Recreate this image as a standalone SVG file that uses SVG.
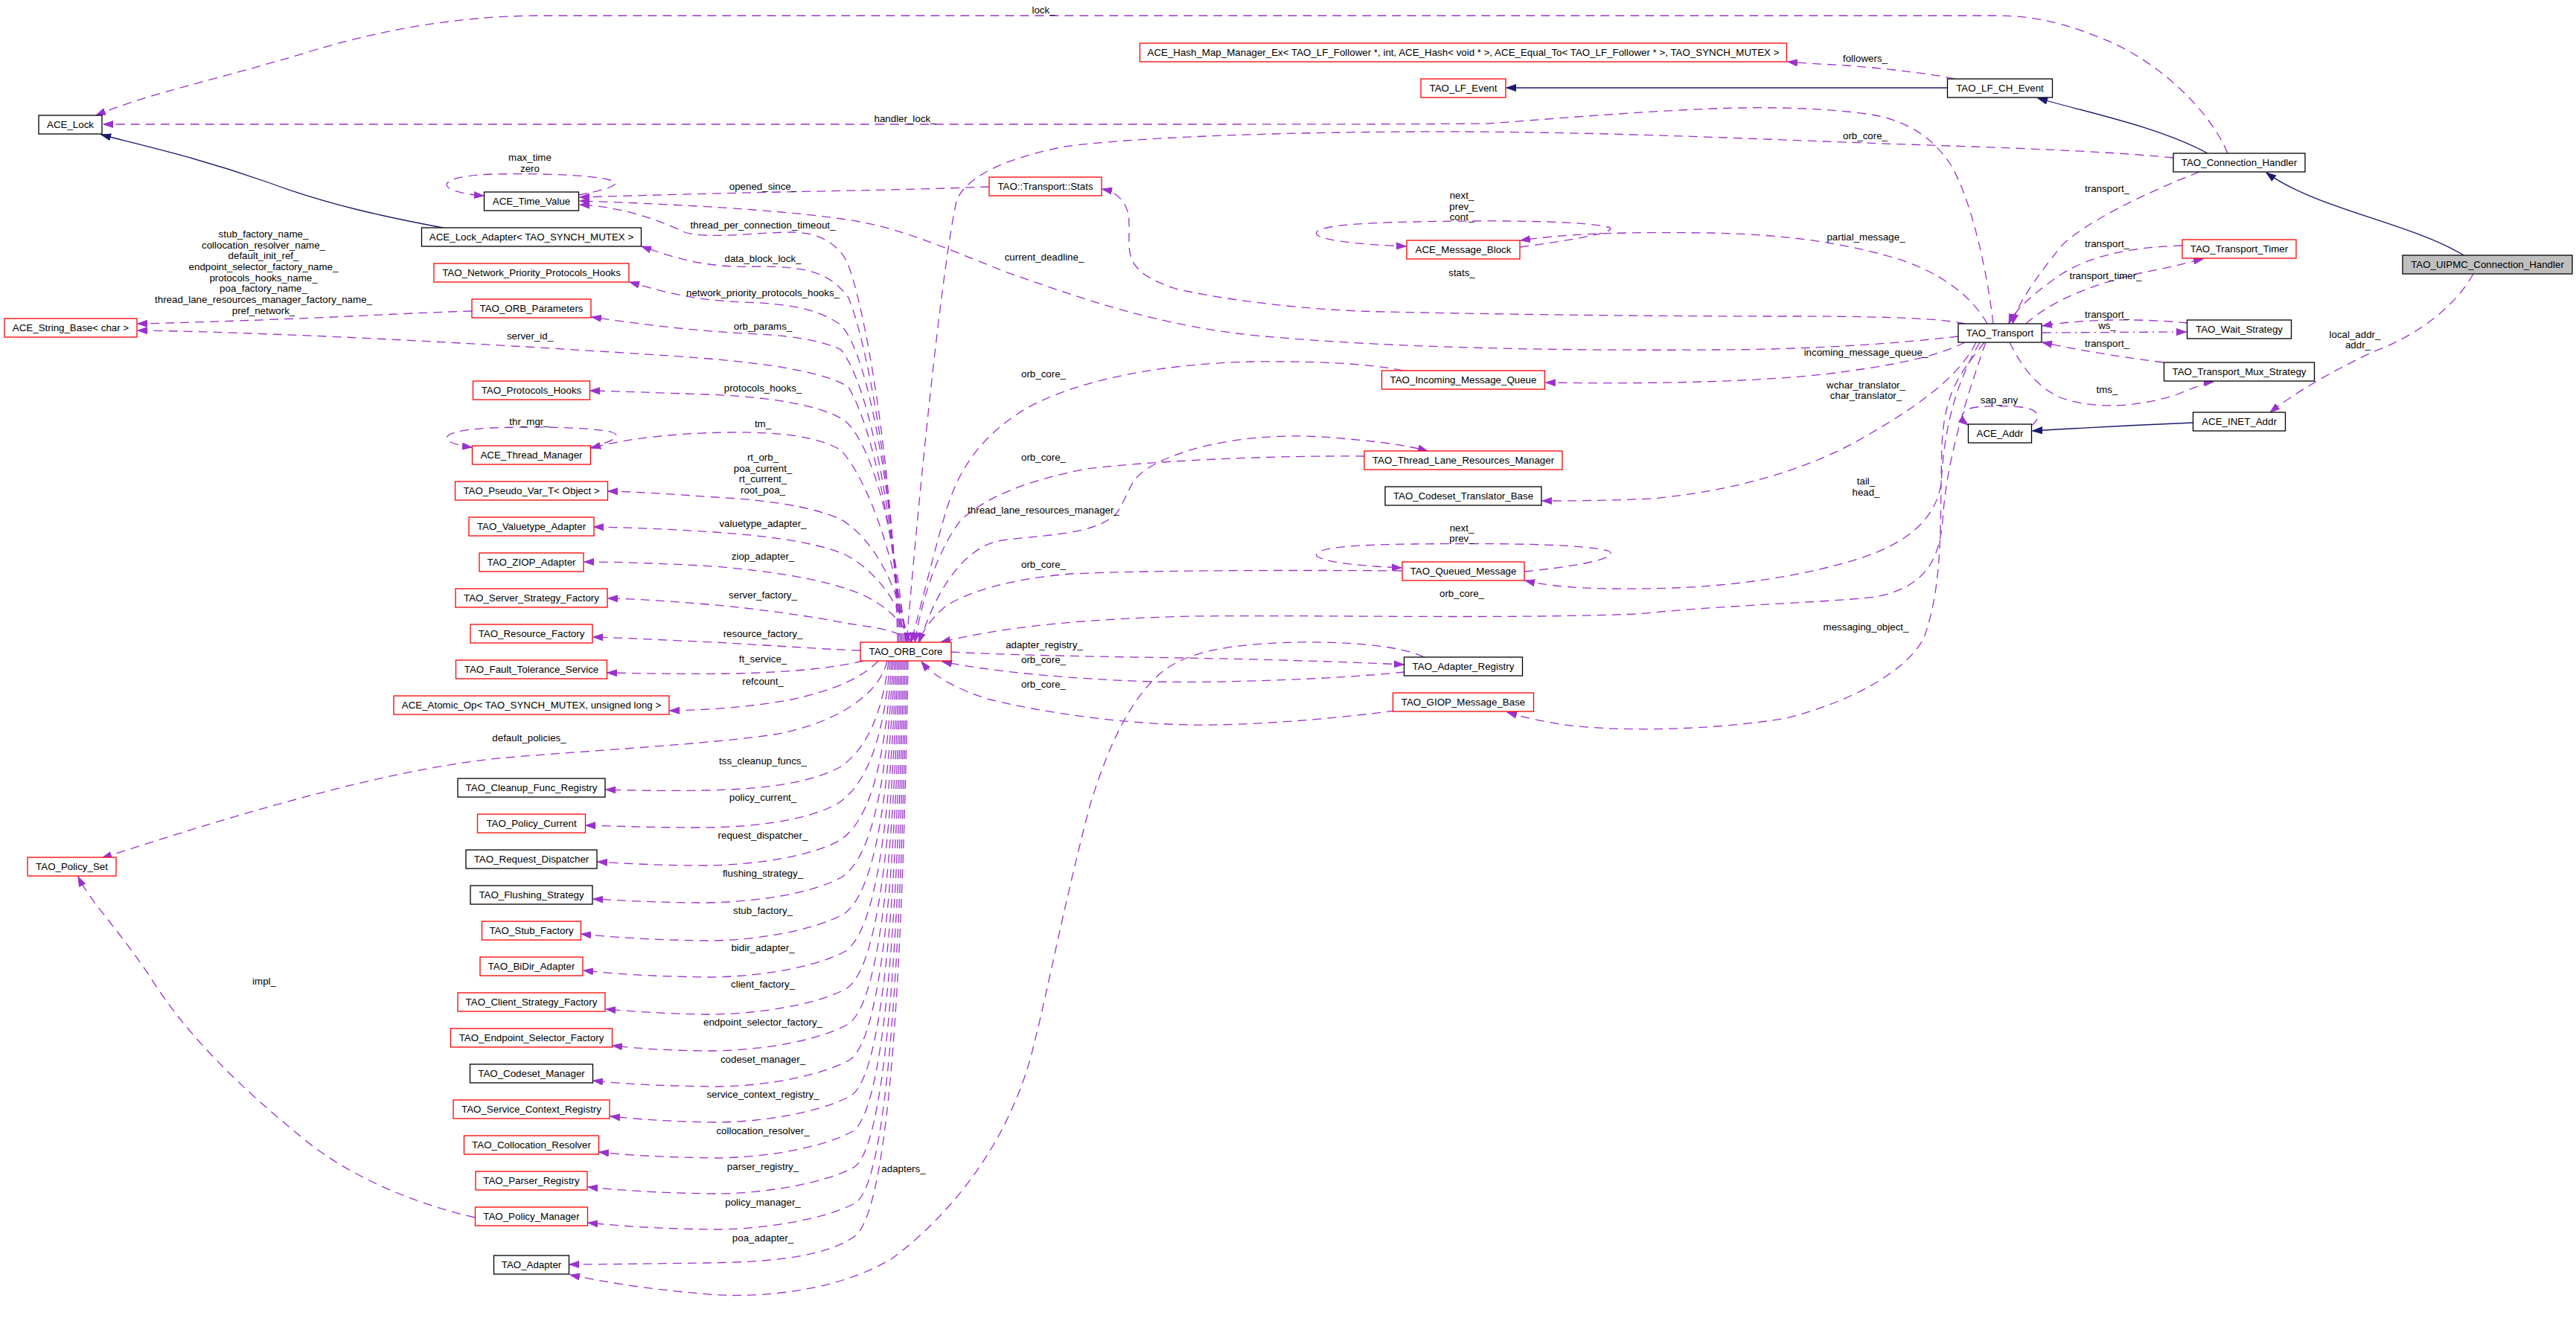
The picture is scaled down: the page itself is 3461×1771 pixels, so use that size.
<svg xmlns="http://www.w3.org/2000/svg" width="3461" height="1771" viewBox="0 0 3461 1771">
<style>
text{font-family:"Liberation Sans",Arial,Helvetica,sans-serif;font-size:13.33px;fill:#000;text-anchor:middle}
.b{fill:#fff;stroke:#000;stroke-width:1.3}
.r{fill:#fff;stroke:#ff0000;stroke-width:1.3}
.g{fill:#bfbfbf;stroke:#000;stroke-width:1.3}
.e{fill:none;stroke:#9a32cd;stroke-width:1.3;stroke-dasharray:12 8;marker-end:url(#ap)}
.d{fill:none;stroke:#9a32cd;stroke-width:1.3;stroke-dasharray:12 6 2 6;marker-end:url(#ap)}
.i{fill:none;stroke:#191970;stroke-width:1.3;marker-end:url(#ab)}
</style>
<defs>
<marker id="ap" markerUnits="userSpaceOnUse" markerWidth="14" markerHeight="10" refX="13" refY="5" orient="auto" viewBox="0 0 14 10"><path d="M0,0.5 L13,5 L0,9.5 z" fill="#9a32cd" stroke="#9a32cd" stroke-width="1"/></marker>
<marker id="ab" markerUnits="userSpaceOnUse" markerWidth="14" markerHeight="10" refX="13" refY="5" orient="auto" viewBox="0 0 14 10"><path d="M0,0.5 L13,5 L0,9.5 z" fill="#191970" stroke="#191970" stroke-width="1"/></marker>
</defs>
<rect width="3461" height="1771" fill="#fff"/>
<g id="edges">
<path class="i" d="M595,306 C520,292 440,275 360,245 C260,210 190,195 136,181"/>
<path class="i" d="M2616,118 L2024,118"/>
<path class="i" d="M2966,206 C2900,170 2800,150 2738,132"/>
<path class="i" d="M3310,343 C3240,300 3110,280 3045,232"/>
<path class="i" d="M2946,568 C2850,572 2780,576 2731,579"/>
<path class="e" d="M2993,206 C2970,150 2900,80 2820,50 C2770,30 2730,21 2680,21 L720,21 C620,22 520,38 420,68 C300,105 200,125 129,155"/>
<path class="e" d="M2678,435 C2668,350 2645,260 2620,220 C2600,190 2570,165 2520,155 C2460,145 2380,143 2300,146 C2200,150 2080,160 2000,166 C1900,167 1700,167 1500,167 L139,167"/>
<path class="e" d="M2626,106 C2590,98 2530,92 2480,88 C2450,86 2420,85 2402,83"/>
<path class="e" d="M2920,212 C2800,200 2600,196 2450,190 C2300,184 2100,176 1900,177 C1700,178 1520,185 1430,197 C1340,215 1300,240 1286,267 C1270,330 1240,600 1218,863"/>
<path class="e" d="M2955,231 C2880,260 2800,300 2770,330 C2730,380 2710,410 2704,435"/>
<path class="e" d="M2932,330 C2860,332 2800,345 2760,375 C2725,400 2705,420 2699,435"/>
<path class="e" d="M2722,435 C2760,400 2830,375 2900,362 C2930,356 2950,350 2960,348"/>
<path class="e" d="M2939,434 C2880,428 2800,428 2744,438"/>
<path class="d" d="M2744,447 L2937,446"/>
<path class="e" d="M2907,487 C2850,480 2790,470 2744,460"/>
<path class="e" d="M2700,460 C2715,490 2735,520 2770,535 C2820,552 2880,545 2925,530 C2950,520 2965,514 2974,513"/>
<path class="e" d="M3323,368 C3300,410 3250,450 3190,472 C3130,500 3080,530 3050,554"/>
<path class="e" d="M2729,572 C2742,563 2742,550 2715,547 C2690,545 2665,545 2650,548 C2632,553 2634,563 2644,571"/>
<path class="e" d="M2670,435 C2650,400 2610,365 2540,345 C2460,322 2380,315 2300,313 C2200,312 2120,312 2043,323"/>
<path class="e" d="M2042,332 C2120,322 2180,310 2160,305 C2120,296 2000,296 1900,298 C1800,300 1760,306 1770,316 C1785,325 1840,329 1889,331"/>
<path class="e" d="M2640,435 C2600,426 2500,425 2400,425 C2200,425 2000,422 1860,419 C1750,417 1640,402 1580,388 C1530,372 1518,355 1517,330 C1516,300 1522,280 1500,262 C1492,257 1486,255 1481,254"/>
<path class="e" d="M1329,251 C1250,254 1150,256 1050,258 C950,260 850,263 779,265"/>
<path class="e" d="M2631,452 C2520,465 2400,470 2300,470 C2150,471 1900,470 1700,452 C1560,440 1450,400 1350,365 C1250,325 1200,303 1130,294 C1050,282 900,274 779,270"/>
<path class="e" d="M2640,460 C2600,480 2540,492 2450,503 C2350,514 2200,516 2077,514"/>
<path class="e" d="M2655,460 C2630,510 2570,550 2500,590 C2430,630 2330,660 2220,670 C2150,673 2100,673 2072,673"/>
<path class="e" d="M2660,460 C2625,520 2612,580 2608,650 C2600,700 2560,730 2500,750 C2420,775 2330,787 2250,790 C2150,793 2090,790 2049,780"/>
<path class="e" d="M2048,768 C2130,760 2180,748 2160,740 C2120,730 2000,730 1900,731 C1800,732 1760,738 1770,748 C1785,757 1840,761 1883,763"/>
<path class="e" d="M2668,460 C2640,540 2615,620 2610,700 C2605,760 2580,790 2520,802 C2450,810 2330,812 2200,825 C2000,832 1800,826 1600,828 C1450,832 1350,842 1264,863"/>
<path class="e" d="M2666,460 C2640,495 2612,520 2609,600 C2606,700 2612,780 2585,857 C2560,905 2480,945 2400,965 C2300,982 2150,985 2080,970 C2050,965 2035,960 2025,957"/>
<path class="e" d="M1885,498 C1840,488 1760,485 1680,486 C1560,489 1450,510 1380,548 C1310,590 1285,640 1270,690 C1250,760 1236,820 1224,863"/>
<path class="e" d="M1833,613 C1720,612 1560,618 1460,630 C1380,645 1320,670 1290,700 C1260,740 1240,800 1229,863"/>
<path class="e" d="M1236,863 C1255,800 1290,740 1340,727 C1400,718 1470,720 1500,690 C1520,660 1515,645 1546,627 C1600,595 1700,580 1790,588 C1850,593 1890,598 1918,606"/>
<path class="e" d="M1883,767 C1750,766 1550,766 1440,771 C1360,777 1300,795 1270,815 C1250,832 1240,848 1234,863"/>
<path class="e" d="M1278,876 C1350,880 1450,882 1590,884 C1700,886 1800,889 1886,893"/>
<path class="e" d="M1887,903 C1800,912 1650,918 1550,916 C1420,912 1320,900 1266,889"/>
<path class="e" d="M1875,955 C1780,967 1680,975 1600,974 C1500,972 1400,957 1330,940 C1290,928 1255,910 1238,889"/>
<path class="e" d="M1913,883 C1880,866 1800,862 1737,863 C1650,866 1600,875 1565,900 C1520,935 1490,1000 1465,1080 C1430,1213 1410,1320 1390,1400 C1360,1530 1280,1630 1200,1690 C1120,1740 1000,1745 940,1738 C850,1730 800,1720 766,1713"/>
<path class="e" d="M777,262 C810,256 840,248 820,242 C790,234 720,233 660,234 C610,236 590,245 605,254 C620,260 635,262 650,263"/>
<path class="e" d="M1206,863 C1200,620 1160,400 1137,350 C1120,320 1090,312 1063,312 C1020,312 950,322 920,312 C890,298 840,278 779,275"/>
<path class="e" d="M1208,863 C1200,650 1165,460 1140,400 C1115,365 1080,358 1020,358 C960,360 920,352 862,331"/>
<path class="e" d="M1210,863 C1200,680 1170,480 1130,437 C1100,415 1060,408 1000,406 C940,404 900,395 846,379"/>
<path class="e" d="M1212,863 C1200,700 1170,520 1130,470 C1100,455 1050,450 1000,448 C930,444 870,437 795,426"/>
<path class="e" d="M634,418 C560,420 480,425 400,428 C300,432 230,434 185,435"/>
<path class="e" d="M1214,863 C1200,720 1175,580 1140,520 C1100,495 1000,485 900,478 C700,465 400,447 185,444"/>
<path class="e" d="M1216,863 C1205,730 1175,600 1135,565 C1100,543 1030,533 950,530 C890,528 840,526 793,525"/>
<path class="e" d="M1218,863 C1205,760 1170,650 1130,605 C1100,587 1050,580 980,581 C900,582 840,590 794,602"/>
<path class="e" d="M793,601 C820,594 840,586 820,580 C790,574 720,573 660,575 C610,577 590,586 605,594 C615,598 625,600 634,601"/>
<path class="e" d="M1220,863 C1208,790 1175,725 1130,698 C1090,680 1030,672 960,668 C900,664 860,661 817,660"/>
<path class="e" d="M1222,863 C1210,810 1175,765 1135,745 C1095,728 1030,720 960,715 C900,711 850,709 798,708"/>
<path class="e" d="M1224,863 C1212,830 1180,805 1140,792 C1100,778 1040,768 960,761 C890,757 830,755 785,755"/>
<path class="e" d="M1226,863 C1215,850 1180,843 1140,838 C1090,828 1020,818 950,812 C900,808 860,805 817,804"/>
<path class="e" d="M1156,874 C1100,872 1050,868 960,863 C890,860 840,857 797,856"/>
<path class="e" d="M1160,888 C1120,898 1060,903 990,905 C920,906 870,905 816,904"/>
<path class="e" d="M1180,888 C1160,910 1120,928 1063,940 C1010,950 950,954 900,955"/>
<path class="e" d="M1192,888 C1180,940 1110,975 1040,987 C950,1000 800,1008 680,1018 C520,1032 300,1100 137,1153"/>
<path class="e" d="M1194,888 C1185,960 1165,1005 1130,1030 C1090,1052 1030,1060 950,1062 C890,1063 850,1062 814,1061"/>
<path class="e" d="M1196,888 C1188,990 1165,1055 1125,1080 C1080,1105 1000,1112 940,1112 C870,1112 830,1110 787,1109"/>
<path class="e" d="M1198,888 C1190,1020 1170,1100 1130,1128 C1090,1152 1010,1162 950,1163 C880,1163 840,1160 803,1158"/>
<path class="e" d="M1200,888 C1192,1050 1172,1150 1132,1178 C1090,1202 1010,1212 950,1213 C880,1213 840,1210 797,1208"/>
<path class="e" d="M1202,888 C1194,1080 1174,1200 1134,1228 C1090,1252 1010,1264 950,1264 C870,1263 820,1259 781,1255"/>
<path class="e" d="M1204,888 C1196,1110 1176,1250 1136,1278 C1092,1302 1010,1313 950,1313 C870,1312 820,1308 784,1304"/>
<path class="e" d="M1206,888 C1198,1140 1178,1300 1138,1328 C1094,1352 1010,1363 950,1363 C890,1362 850,1359 814,1356"/>
<path class="e" d="M1208,888 C1200,1170 1180,1348 1140,1376 C1096,1400 1020,1411 960,1412 C900,1412 860,1409 823,1405"/>
<path class="e" d="M1210,888 C1202,1200 1182,1396 1142,1424 C1098,1448 1020,1460 960,1460 C880,1459 830,1456 797,1452"/>
<path class="e" d="M1212,888 C1204,1230 1184,1444 1144,1472 C1100,1496 1020,1508 960,1508 C900,1507 860,1504 820,1500"/>
<path class="e" d="M1214,888 C1206,1260 1186,1492 1146,1520 C1102,1544 1020,1556 960,1556 C890,1555 840,1552 805,1548"/>
<path class="e" d="M1216,888 C1208,1290 1188,1540 1148,1568 C1104,1592 1020,1604 960,1604 C880,1603 830,1599 790,1595"/>
<path class="e" d="M1218,888 C1210,1320 1190,1588 1150,1616 C1106,1640 1020,1652 960,1652 C880,1651 830,1647 790,1643"/>
<path class="e" d="M1220,888 C1212,1350 1192,1620 1150,1660 C1110,1690 1030,1696 950,1697 C870,1698 810,1699 765,1699"/>
<path class="e" d="M638,1636 C560,1618 480,1585 420,1540 C320,1460 250,1390 200,1310 C160,1250 120,1210 105,1178"/>
</g>
<g id="labels">
<text x="1402" y="18">lock_</text>
<text x="2506" y="83">followers_</text>
<text x="1216" y="164">handler_lock_</text>
<text x="2506" y="187">orb_core_</text>
<text x="712" y="216">max_time</text>
<text x="712" y="231">zero</text>
<text x="1025" y="255">opened_since_</text>
<text x="2831" y="258">transport_</text>
<text x="1964" y="267">next_</text>
<text x="1964" y="282">prev_</text>
<text x="1964" y="296">cont_</text>
<text x="1025" y="307">thread_per_connection_timeout_</text>
<text x="354" y="319">stub_factory_name_</text>
<text x="354" y="334">collocation_resolver_name_</text>
<text x="354" y="348">default_init_ref_</text>
<text x="354" y="363">endpoint_selector_factory_name_</text>
<text x="354" y="378">protocols_hooks_name_</text>
<text x="354" y="392">poa_factory_name_</text>
<text x="354" y="407">thread_lane_resources_manager_factory_name_</text>
<text x="354" y="422">pref_network_</text>
<text x="2507" y="323">partial_message_</text>
<text x="2831" y="332">transport_</text>
<text x="1403" y="350">current_deadline_</text>
<text x="1025" y="352">data_block_lock_</text>
<text x="1964" y="371">stats_</text>
<text x="2829" y="375">transport_timer_</text>
<text x="1025" y="398">network_priority_protocols_hooks_</text>
<text x="2831" y="427">transport_</text>
<text x="2831" y="442">ws_</text>
<text x="1025" y="443">orb_params_</text>
<text x="3164" y="454">local_addr_</text>
<text x="3168" y="468">addr_</text>
<text x="712" y="456">server_id_</text>
<text x="2831" y="466">transport_</text>
<text x="2507" y="478">incoming_message_queue_</text>
<text x="1402" y="507">orb_core_</text>
<text x="2507" y="522">wchar_translator_</text>
<text x="2507" y="536">char_translator_</text>
<text x="1025" y="526">protocols_hooks_</text>
<text x="2831" y="528">tms_</text>
<text x="2686" y="542">sap_any</text>
<text x="711" y="571">thr_mgr_</text>
<text x="1025" y="574">tm_</text>
<text x="1402" y="619">orb_core_</text>
<text x="1025" y="619">rt_orb_</text>
<text x="1025" y="634">poa_current_</text>
<text x="1025" y="648">rt_current_</text>
<text x="1025" y="663">root_poa_</text>
<text x="2507" y="651">tail_</text>
<text x="2507" y="666">head_</text>
<text x="1402" y="690">thread_lane_resources_manager_</text>
<text x="1025" y="708">valuetype_adapter_</text>
<text x="1964" y="714">next_</text>
<text x="1964" y="728">prev_</text>
<text x="1025" y="752">ziop_adapter_</text>
<text x="1402" y="763">orb_core_</text>
<text x="1964" y="802">orb_core_</text>
<text x="1025" y="804">server_factory_</text>
<text x="2507" y="847">messaging_object_</text>
<text x="1025" y="856">resource_factory_</text>
<text x="1403" y="871">adapter_registry_</text>
<text x="1025" y="890">ft_service_</text>
<text x="1402" y="891">orb_core_</text>
<text x="1025" y="920">refcount_</text>
<text x="1402" y="924">orb_core_</text>
<text x="711" y="996">default_policies_</text>
<text x="1025" y="1027">tss_cleanup_funcs_</text>
<text x="1025" y="1076">policy_current_</text>
<text x="1025" y="1127">request_dispatcher_</text>
<text x="1025" y="1178">flushing_strategy_</text>
<text x="1025" y="1228">stub_factory_</text>
<text x="1025" y="1278">bidir_adapter_</text>
<text x="355" y="1323">impl_</text>
<text x="1025" y="1327">client_factory_</text>
<text x="1025" y="1378">endpoint_selector_factory_</text>
<text x="1025" y="1428">codeset_manager_</text>
<text x="1025" y="1475">service_context_registry_</text>
<text x="1025" y="1524">collocation_resolver_</text>
<text x="1025" y="1572">parser_registry_</text>
<text x="1214" y="1575">adapters_</text>
<text x="1025" y="1620">policy_manager_</text>
<text x="1025" y="1668">poa_adapter_</text>
</g>
<g id="n_lock"><rect class="b" x="52" y="155" width="85" height="25"/><text x="94.5" y="172">ACE_Lock</text></g>
<g id="n_timeval"><rect class="b" x="650.5" y="258" width="127" height="25"/><text x="714" y="275">ACE_Time_Value</text></g>
<g id="n_lockadapter"><rect class="b" x="566.5" y="306" width="295" height="25"/><text x="714" y="323">ACE_Lock_Adapter&lt; TAO_SYNCH_MUTEX &gt;</text></g>
<g id="n_npph"><rect class="r" x="583" y="354" width="262" height="25"/><text x="714" y="371">TAO_Network_Priority_Protocols_Hooks</text></g>
<g id="n_orbparams"><rect class="r" x="634" y="402" width="160" height="25"/><text x="714" y="419">TAO_ORB_Parameters</text></g>
<g id="n_strbase"><rect class="r" x="6" y="428" width="178" height="25"/><text x="95" y="445">ACE_String_Base&lt; char &gt;</text></g>
<g id="n_protohooks"><rect class="r" x="635.5" y="512" width="157" height="25"/><text x="714" y="529">TAO_Protocols_Hooks</text></g>
<g id="n_thrmgr"><rect class="r" x="634.5" y="599" width="159" height="25"/><text x="714" y="616">ACE_Thread_Manager</text></g>
<g id="n_pseudovar"><rect class="r" x="611.5" y="647" width="205" height="25"/><text x="714" y="664">TAO_Pseudo_Var_T&lt; Object &gt;</text></g>
<g id="n_valuetype"><rect class="r" x="630" y="695" width="168" height="25"/><text x="714" y="712">TAO_Valuetype_Adapter</text></g>
<g id="n_ziop"><rect class="r" x="644" y="743" width="140" height="25"/><text x="714" y="760">TAO_ZIOP_Adapter</text></g>
<g id="n_ssf"><rect class="r" x="612" y="791" width="204" height="25"/><text x="714" y="808">TAO_Server_Strategy_Factory</text></g>
<g id="n_resfact"><rect class="r" x="632" y="839" width="164" height="25"/><text x="714" y="856">TAO_Resource_Factory</text></g>
<g id="n_fts"><rect class="r" x="612.5" y="887" width="203" height="25"/><text x="714" y="904">TAO_Fault_Tolerance_Service</text></g>
<g id="n_atomic"><rect class="r" x="529" y="935" width="370" height="25"/><text x="714" y="952">ACE_Atomic_Op&lt; TAO_SYNCH_MUTEX, unsigned long &gt;</text></g>
<g id="n_policyset"><rect class="r" x="37" y="1152" width="119" height="25"/><text x="96.5" y="1169">TAO_Policy_Set</text></g>
<g id="n_cleanup"><rect class="b" x="615" y="1046" width="198" height="25"/><text x="714" y="1063">TAO_Cleanup_Func_Registry</text></g>
<g id="n_policycur"><rect class="r" x="641.5" y="1094" width="145" height="25"/><text x="714" y="1111">TAO_Policy_Current</text></g>
<g id="n_reqdisp"><rect class="b" x="626" y="1142" width="176" height="25"/><text x="714" y="1159">TAO_Request_Dispatcher</text></g>
<g id="n_flush"><rect class="b" x="632" y="1190" width="164" height="25"/><text x="714" y="1207">TAO_Flushing_Strategy</text></g>
<g id="n_stubfact"><rect class="r" x="647.5" y="1238" width="133" height="25"/><text x="714" y="1255">TAO_Stub_Factory</text></g>
<g id="n_bidir"><rect class="r" x="645" y="1286" width="138" height="25"/><text x="714" y="1303">TAO_BiDir_Adapter</text></g>
<g id="n_csf"><rect class="r" x="615" y="1334" width="198" height="25"/><text x="714" y="1351">TAO_Client_Strategy_Factory</text></g>
<g id="n_esf"><rect class="r" x="605.5" y="1382" width="217" height="25"/><text x="714" y="1399">TAO_Endpoint_Selector_Factory</text></g>
<g id="n_csm"><rect class="b" x="631.5" y="1430" width="165" height="25"/><text x="714" y="1447">TAO_Codeset_Manager</text></g>
<g id="n_scr"><rect class="r" x="609" y="1478" width="210" height="25"/><text x="714" y="1495">TAO_Service_Context_Registry</text></g>
<g id="n_colres"><rect class="r" x="623.5" y="1526" width="181" height="25"/><text x="714" y="1543">TAO_Collocation_Resolver</text></g>
<g id="n_parser"><rect class="r" x="639" y="1574" width="150" height="25"/><text x="714" y="1591">TAO_Parser_Registry</text></g>
<g id="n_polmgr"><rect class="r" x="638.5" y="1622" width="151" height="25"/><text x="714" y="1639">TAO_Policy_Manager</text></g>
<g id="n_adapter"><rect class="b" x="663.5" y="1687" width="101" height="25"/><text x="714" y="1704">TAO_Adapter</text></g>
<g id="n_orbcore"><rect class="r" x="1156" y="863" width="122" height="25"/><text x="1217" y="880">TAO_ORB_Core</text></g>
<g id="n_stats"><rect class="r" x="1329" y="238" width="151" height="25"/><text x="1404.5" y="255">TAO::Transport::Stats</text></g>
<g id="n_hashmap"><rect class="r" x="1531.5" y="58" width="869" height="25"/><text x="1966" y="75">ACE_Hash_Map_Manager_Ex&lt; TAO_LF_Follower *, int, ACE_Hash&lt; void * &gt;, ACE_Equal_To&lt; TAO_LF_Follower * &gt;, TAO_SYNCH_MUTEX &gt;</text></g>
<g id="n_lfevent"><rect class="r" x="1909" y="106" width="114" height="25"/><text x="1966" y="123">TAO_LF_Event</text></g>
<g id="n_msgblock"><rect class="r" x="1890" y="323" width="152" height="25"/><text x="1966" y="340">ACE_Message_Block</text></g>
<g id="n_imq"><rect class="r" x="1856.5" y="498" width="219" height="25"/><text x="1966" y="515">TAO_Incoming_Message_Queue</text></g>
<g id="n_tlrm"><rect class="r" x="1833" y="606" width="266" height="25"/><text x="1966" y="623">TAO_Thread_Lane_Resources_Manager</text></g>
<g id="n_cstb"><rect class="b" x="1861" y="654" width="210" height="25"/><text x="1966" y="671">TAO_Codeset_Translator_Base</text></g>
<g id="n_queued"><rect class="r" x="1884" y="755" width="164" height="25"/><text x="1966" y="772">TAO_Queued_Message</text></g>
<g id="n_adreg"><rect class="b" x="1886.5" y="883" width="159" height="25"/><text x="1966" y="900">TAO_Adapter_Registry</text></g>
<g id="n_giop"><rect class="r" x="1871.5" y="931" width="189" height="25"/><text x="1966" y="948">TAO_GIOP_Message_Base</text></g>
<g id="n_lfch"><rect class="b" x="2616.5" y="106" width="141" height="25"/><text x="2687" y="123">TAO_LF_CH_Event</text></g>
<g id="n_transport"><rect class="b" x="2631" y="435" width="112" height="25"/><text x="2687" y="452">TAO_Transport</text></g>
<g id="n_addr"><rect class="b" x="2644.5" y="570" width="85" height="25"/><text x="2687" y="587">ACE_Addr</text></g>
<g id="n_ch"><rect class="b" x="2920" y="206" width="177" height="25"/><text x="3008.5" y="223">TAO_Connection_Handler</text></g>
<g id="n_timer"><rect class="r" x="2932" y="322" width="153" height="25"/><text x="3008.5" y="339">TAO_Transport_Timer</text></g>
<g id="n_ws"><rect class="b" x="2938.5" y="430" width="140" height="25"/><text x="3008.5" y="447">TAO_Wait_Strategy</text></g>
<g id="n_tms"><rect class="b" x="2907.5" y="487" width="202" height="25"/><text x="3008.5" y="504">TAO_Transport_Mux_Strategy</text></g>
<g id="n_inet"><rect class="b" x="2946.5" y="554" width="124" height="25"/><text x="3008.5" y="571">ACE_INET_Addr</text></g>
<g id="n_uipmc"><rect class="g" x="3228" y="343" width="228" height="25"/><text x="3342" y="360">TAO_UIPMC_Connection_Handler</text></g>
</svg>
